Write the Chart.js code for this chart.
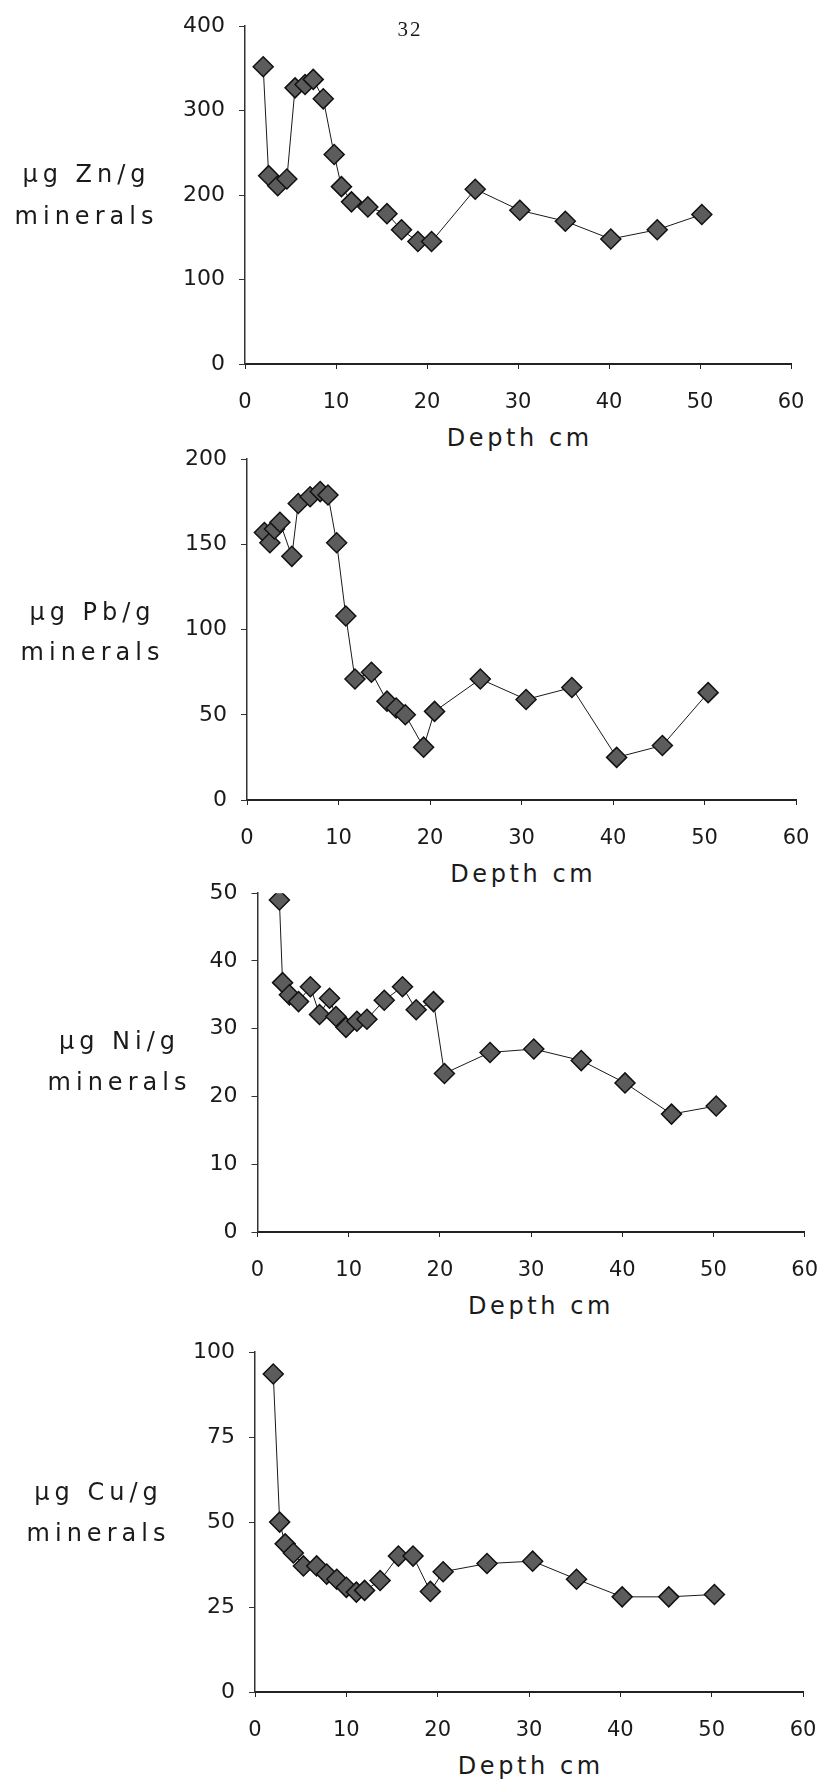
<!DOCTYPE html>
<html>
<head>
<meta charset="utf-8">
<script src="https://cdn.jsdelivr.net/npm/chart.js@4.4.1/dist/chart.umd.min.js"></script>
<style>
  html, body { margin: 0; padding: 0; background: #fff; }
  body { width: 839px; height: 1785px; position: relative; overflow: hidden; font-family: "DejaVu Sans", sans-serif; color: #1a1a1a; }
  canvas { position: absolute; left: 0; }
  .lbl { position: absolute; white-space: nowrap; line-height: 24px; font-size: 24px; transform: translateX(-50%); }
  .ylab { letter-spacing: 5px; padding-left: 5px; }
  .xlab { letter-spacing: 3.6px; padding-left: 3.6px; }
  .page { font-family: "Liberation Serif", serif; font-size: 21px; line-height: 21px; letter-spacing: 2px; }
</style>
</head>
<body>
<script>
// depth (cm) and concentration (µg/g minerals)
const depthZn = [2.0, 2.6, 3.6, 4.6, 5.5, 6.6, 7.5, 8.6, 9.8, 10.6, 11.7, 13.5, 15.6, 17.2, 19.0, 20.5, 25.3, 30.2, 35.2, 40.2, 45.3, 50.2];
const zn = [352, 223, 211, 219, 327, 331, 337, 314, 248, 210, 192, 186, 178, 159, 145, 145, 207, 182, 169, 148, 159, 177];

const depthPb = [1.9, 2.5, 3.0, 3.6, 4.9, 5.6, 6.9, 8.0, 8.85, 9.8, 10.8, 11.8, 13.6, 15.3, 16.3, 17.3, 19.3, 20.5, 25.5, 30.5, 35.5, 40.4, 45.4, 50.4];
const pb = [157, 151, 159, 163, 143, 174, 178, 181, 179, 151, 108, 71, 75, 58, 54, 50, 31, 52, 71, 59, 66, 25, 32, 63];

const depthNi = [2.4, 2.75, 3.5, 4.5, 5.8, 6.8, 7.9, 8.6, 9.7, 10.9, 12.0, 13.9, 15.9, 17.4, 19.3, 20.5, 25.5, 30.3, 35.5, 40.3, 45.4, 50.3];
const ni = [49, 36.8, 35, 34, 36.2, 32.1, 34.5, 31.8, 30.2, 31.1, 31.4, 34.2, 36.2, 32.8, 34, 23.4, 26.5, 27.0, 25.3, 22.0, 17.4, 18.6];

const depthCu = [2.0, 2.7, 3.3, 4.2, 5.3, 6.75, 7.85, 8.95, 10.0, 11.1, 12.0, 13.7, 15.7, 17.3, 19.2, 20.6, 25.4, 30.4, 35.2, 40.2, 45.3, 50.3];
const cu = [93.6, 50, 43.6, 40.9, 37.1, 37.1, 34.7, 33.2, 30.8, 29.4, 29.9, 32.8, 40, 40, 29.6, 35.4, 37.8, 38.5, 33.2, 28, 28, 28.7];

// tick labels
const depthTicks = [0, 10, 20, 30, 40, 50, 60];
const znTicks = [0, 100, 200, 300, 400];
const pbTicks = [0, 50, 100, 150, 200];
const niTicks = [0, 10, 20, 30, 40, 50];
const cuTicks = [0, 25, 50, 75, 100];

const pageNumber = '32';
const xTitle = 'Depth cm';

// panel placement on the page (axis left/right, top/bottom of plot)
const panels = [
    { depth: depthZn, values: zn, yTicks: znTicks, unit: 'µg Zn/g', L: 245, R: 791, T: 19, B: 364, lx: 84, lb: [182, 224] },
    { depth: depthPb, values: pb, yTicks: pbTicks, unit: 'µg Pb/g', L: 247, R: 796, T: 452, B: 800, lx: 90, lb: [620, 660] },
    { depth: depthNi, values: ni, yTicks: niTicks, unit: 'µg Ni/g', L: 257.5, R: 821, T: 886, B: 1232, lx: 117, lb: [1049, 1090] },
    { depth: depthCu, values: cu, yTicks: cuTicks, unit: 'µg Cu/g', L: 255, R: 803, T: 1345, B: 1692, lx: 96, lb: [1500, 1541] }
];

const ink = '#1a1a1a';
const tickFontX = { family: '"DejaVu Sans", sans-serif', size: 21 };
const tickFontY = { family: '"DejaVu Sans", sans-serif', size: 22 };

function addText(text, cx, top, cls) {
    const el = document.createElement('div');
    el.className = 'lbl ' + cls;
    el.textContent = text;
    el.style.left = cx + 'px';
    el.style.top = top + 'px';
    document.body.appendChild(el);
}

function makePanel(p) {
    const padTop = 20, xH = 60;
    const cv = document.createElement('canvas');
    cv.width = 839;
    cv.height = padTop + (p.B - p.T) + xH;
    cv.style.top = (p.T - padTop) + 'px';
    document.body.appendChild(cv);

    const pts = p.depth.map((d, i) => ({ x: d, y: p.values[i] }));
    const yMax = p.yTicks[p.yTicks.length - 1];

    new Chart(cv, {
        type: 'scatter',
        data: {
            datasets: [{
                data: pts,
                showLine: true,
                borderColor: ink,
                borderWidth: 1,
                pointStyle: 'rectRot',
                pointRadius: 10,
                pointBackgroundColor: '#5c5c5c',
                pointBorderColor: '#111',
                pointBorderWidth: 1.5
            }]
        },
        options: {
            responsive: false,
            animation: false,
            events: [],
            layout: { padding: { top: padTop, right: 839 - p.R, bottom: 0, left: 0 } },
            plugins: { legend: { display: false }, tooltip: { enabled: false } },
            scales: {
                x: {
                    type: 'linear', min: 0, max: 60,
                    afterBuildTicks: s => { s.ticks = depthTicks.map(v => ({ value: v })); },
                    afterFit: s => { s.height = xH; },
                    border: { color: '#222', width: 2 },
                    grid: { drawOnChartArea: false, tickLength: 5, color: '#222' },
                    ticks: { font: tickFontX, color: ink, padding: 21, maxRotation: 0 }
                },
                y: {
                    type: 'linear', min: 0, max: yMax,
                    afterBuildTicks: s => { s.ticks = p.yTicks.map(v => ({ value: v })); },
                    afterFit: s => { s.width = p.L; },
                    border: { color: '#333', width: 1.5 },
                    grid: { drawOnChartArea: false, tickLength: 6, color: '#333' },
                    ticks: { font: tickFontY, color: ink, padding: 14 }
                }
            }
        }
    });

    // horizontal y label and x title, baseline-positioned (DejaVu 24px: baseline ~20px below top)
    addText(p.unit, p.lx, p.lb[0] - 20, 'ylab');
    addText('minerals', p.lx, p.lb[1] - 20, 'ylab');
    addText(xTitle, (p.L + p.R) / 2, p.B + 82 - 20, 'xlab');
}

panels.forEach(makePanel);
addText(pageNumber, 410, 37 - 17.6, 'page');
</script>
</body>
</html>
